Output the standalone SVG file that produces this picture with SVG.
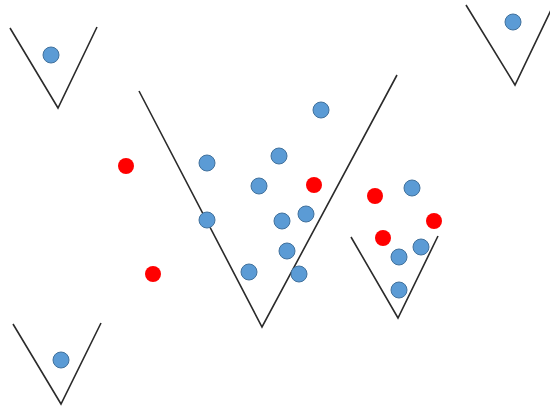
<svg xmlns="http://www.w3.org/2000/svg" width="550" height="412" viewBox="0 0 550 412">
<style>
.v{fill:none;stroke:#2b2b2b;stroke-width:1.6;stroke-linejoin:miter}
.b{fill:#5b9bd5;stroke:#41719c;stroke-width:1}
.r{fill:#ff0000}
</style>
<rect width="550" height="412" fill="#ffffff"/>
<g id="connectors">
<polyline id="v1" class="v" points="10,28 58,108 97,27"/>
<polyline id="v2" class="v" points="139,91 262,327 397,75"/>
<polyline id="v3" class="v" points="351,237 398,318 438,236"/>
<polyline id="v4" class="v" points="466,5 515,85 551,10"/>
<polyline id="v5" class="v" points="13,324 61,404 101,323"/>
</g>
<g id="dots">
<circle class="b" cx="51" cy="55" r="8"/>
<circle class="b" cx="513" cy="22" r="8"/>
<circle class="b" cx="61" cy="360" r="8"/>
<circle class="b" cx="321" cy="110" r="8"/>
<circle class="r" cx="126" cy="166" r="8"/>
<circle class="b" cx="207" cy="163" r="8"/>
<circle class="b" cx="279" cy="156" r="8"/>
<circle class="b" cx="259" cy="186" r="8"/>
<circle class="r" cx="314" cy="185" r="8"/>
<circle class="b" cx="207" cy="220" r="8"/>
<circle class="b" cx="282" cy="221" r="8"/>
<circle class="b" cx="306" cy="214" r="8"/>
<circle class="b" cx="287" cy="251" r="8"/>
<circle class="r" cx="153" cy="274" r="8"/>
<circle class="b" cx="249" cy="272" r="8"/>
<circle class="b" cx="299" cy="274" r="8"/>
<circle class="r" cx="375" cy="196" r="8"/>
<circle class="b" cx="412" cy="188" r="8"/>
<circle class="r" cx="434" cy="221" r="8"/>
<circle class="r" cx="383" cy="238" r="8"/>
<circle class="b" cx="399" cy="257" r="8"/>
<circle class="b" cx="421" cy="247" r="8"/>
<circle class="b" cx="399" cy="290" r="8"/>
</g>
</svg>
